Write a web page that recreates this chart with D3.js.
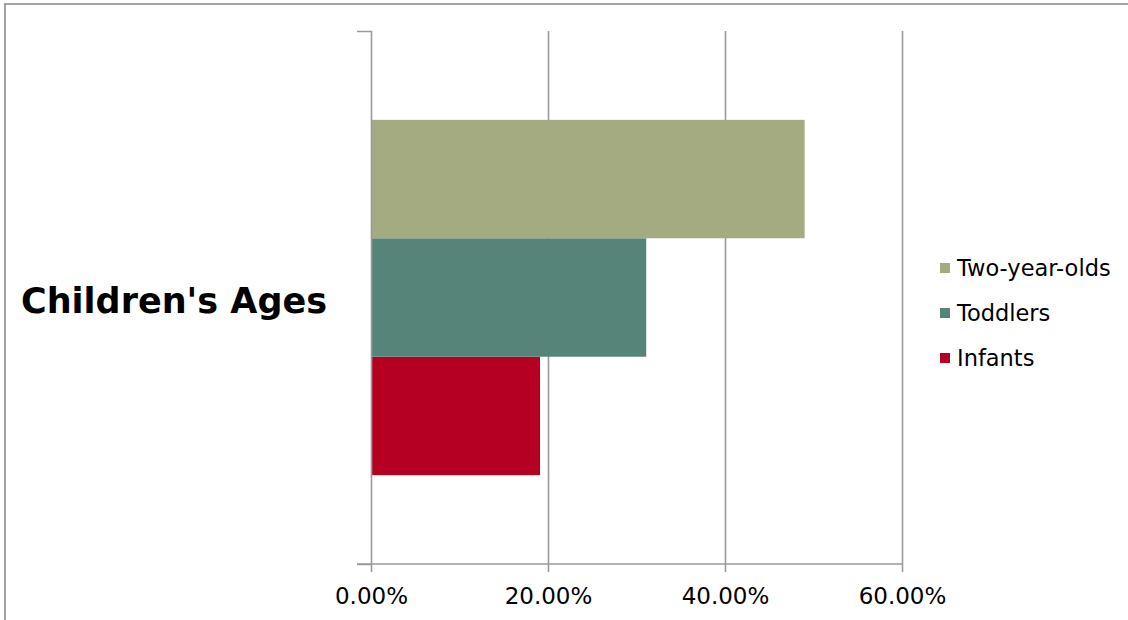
<!DOCTYPE html>
<html>
<head>
<meta charset="utf-8">
<script src="https://cdn.jsdelivr.net/npm/d3@7"></script>
<style>
  html, body { margin: 0; padding: 0; background: #fff; }
  svg { display: block; }
  text { font-family: "Century Gothic", "URW Gothic", "DejaVu Sans", sans-serif; }
</style>
</head>
<body>
<svg id="chart" width="1128" height="620"></svg>
<script>
const category = "Children's Ages";
const seriesNames = ["Infants", "Toddlers", "Two-year-olds"];
const seriesValues = [0.191, 0.311, 0.490];
const seriesColors = ["#B50021", "#568479", "#A5AB81"];
const xTicks = [0, 0.2, 0.4, 0.6];
const xTickLabels = ["0.00%", "20.00%", "40.00%", "60.00%"];
const legendOrder = ["Two-year-olds", "Toddlers", "Infants"];

const svg = d3.select("#chart");

// outer chart border (right/bottom edges outside view)
svg.append("rect")
  .attr("x", 5).attr("y", 4).attr("width", 1140).attr("height", 700)
  .attr("fill", "none").attr("stroke", "#8c8c8c").attr("stroke-width", 1.6);

const plot = { left: 371, right: 902, top: 31, bottom: 564 };

const x = d3.scaleLinear().domain([0, 0.6]).range([plot.left, plot.right]);
const yCat = d3.scaleBand().domain([category]).range([plot.bottom, plot.top]);
const ySeries = d3.scaleBand().domain(seriesNames)
  .range([yCat(category) + yCat.bandwidth(), yCat(category)])
  .paddingInner(0).paddingOuter(0.75);

// gridlines
const grid = svg.append("g").attr("transform", `translate(0,${plot.top})`)
  .call(d3.axisBottom(x).tickValues(xTicks.slice(1)).tickSize(plot.bottom - plot.top).tickFormat(""));
grid.select(".domain").remove();
grid.selectAll("line").attr("stroke", "#9a9a9a").attr("stroke-width", 1.6);

// bars
svg.append("g").selectAll("rect")
  .data(seriesNames.map((n, i) => ({ name: n, value: seriesValues[i], color: seriesColors[i] })))
  .join("rect")
  .attr("x", x(0))
  .attr("y", d => ySeries(d.name))
  .attr("width", d => x(d.value) - x(0))
  .attr("height", ySeries.bandwidth())
  .attr("fill", d => d.color);

// x axis
const xAxis = svg.append("g").attr("transform", `translate(0,${plot.bottom})`)
  .call(d3.axisBottom(x).tickValues(xTicks).tickSize(8).tickSizeOuter(0)
    .tickFormat((d, i) => xTickLabels[i]));
xAxis.select(".domain").remove();
xAxis.selectAll("line").attr("stroke", "#9a9a9a").attr("stroke-width", 1.6);
xAxis.selectAll("text").attr("fill", "#000").attr("font-size", 23).attr("dy", 29);
svg.append("line")
  .attr("x1", plot.left - 14).attr("x2", plot.right)
  .attr("y1", plot.bottom).attr("y2", plot.bottom)
  .attr("stroke", "#9a9a9a").attr("stroke-width", 1.6);

// y axis
const yAxis = svg.append("g").attr("transform", `translate(${plot.left},0)`)
  .call(d3.axisLeft(yCat).tickValues([]).tickSizeOuter(14));
yAxis.select(".domain").attr("stroke", "#9a9a9a").attr("stroke-width", 1.6).attr("fill", "none");

// category label
svg.append("text")
  .attr("x", 21).attr("y", 313)
  .attr("font-size", 35).attr("font-weight", "bold").attr("fill", "#000")
  .text(category);

// legend
const legend = svg.append("g");
const ly = d3.scalePoint().domain(legendOrder).range([268, 358]);
legendOrder.forEach(n => {
  const i = seriesNames.indexOf(n);
  legend.append("rect").attr("x", 940).attr("y", ly(n) - 5).attr("width", 10).attr("height", 10)
    .attr("fill", seriesColors[i]);
  legend.append("text").attr("x", 957).attr("y", ly(n)).attr("dy", "0.36em")
    .attr("font-size", 22.5).attr("fill", "#000").text(n);
});
</script>
</body>
</html>
